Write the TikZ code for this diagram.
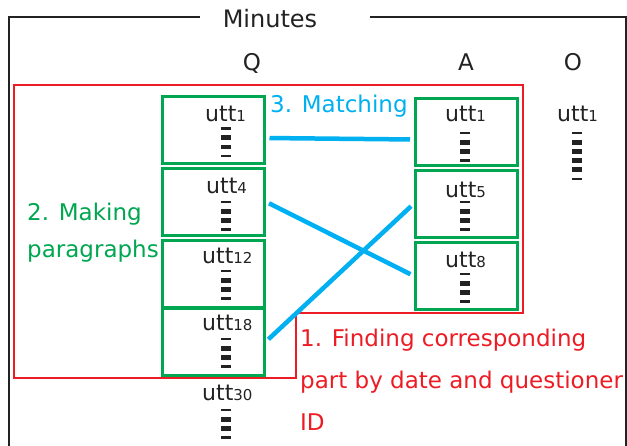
\documentclass[tikz,border=0pt]{standalone}
\usepackage{fontspec}
\setmainfont{DejaVu Sans}
\definecolor{boxgreen}{HTML}{00A650}
\definecolor{matchblue}{HTML}{00B0F0}
\definecolor{findred}{HTML}{ED1C24}
\definecolor{inkgray}{HTML}{222222}
\tikzset{
  uttbox/.style={draw=boxgreen, line width=3pt, minimum width=102pt, minimum height=67pt, inner sep=0pt},
  utt/.style={anchor=base west, inner sep=0pt, text=inkgray, font=\fontsize{22}{22}\selectfont},
  head/.style={anchor=base, inner sep=0pt, text=inkgray, font=\fontsize{23}{23}\selectfont},
  step label/.style={anchor=base west, inner sep=0pt, align=left, font=\fontsize{23}{23}\selectfont},
  matchline/.style={draw=matchblue, line width=4.5pt, shorten <=4pt, shorten >=4pt},
}
\newcommand{\uttno}[1]{utt{\fontsize{15}{15}\selectfont #1}}
% column of bars under an utterance: x, y of first bar, count
\newcommand{\barstack}[3]{%
  \foreach \i in {1,...,#3}{%
    \pgfmathsetmacro{\by}{#2+(\i-1)*9.2}%
    \pgfmathsetmacro{\bh}{(\i==1 || \i==#3) ? 1.2 : 2.4}%
    \fill[inkgray] (#1-5,\by-\bh) rectangle (#1+5,\by+\bh);
  }}

\begin{document}
\begin{tikzpicture}[x=1pt,y=-1pt]
\useasboundingbox (0,0) rectangle (627,445);
% frame
\node[head, font=\fontsize{24}{24}\selectfont] (title) at (270,27) {Minutes};
\draw[inkgray, line width=2pt] (200,17) -- (9,17) -- (9,447);
\draw[inkgray, line width=2pt] (370,17) -- (626,17) -- (626,447);
\node[head] (qhead) at (252,70) {Q};
\node[head] (ahead) at (466,70) {A};
\node[head] (ohead) at (573,70) {O};

% step 1 region
\draw[findred, line width=1.8pt] (14,85) -- (523,85) -- (523,313) -- (296,313) -- (296,378) -- (14,378) -- cycle;

% question boxes
\node[uttbox] (q1) at (213,130) {};
\node[uttbox] (q4) at (213,201.5) {};
\node[uttbox] (q12) at (213,274) {};
\node[uttbox] (q18) at (213,342) {};
% answer boxes
\node[uttbox] (a1) at (466.5,131.5) {};
\node[uttbox] (a5) at (466.5,203.5) {};
\node[uttbox] (a8) at (466.5,276) {};

\node[utt] (uq1) at (205,121) {\uttno{1}};
\node[utt] (uq4) at (206,193) {\uttno{4}};
\node[utt] (uq12) at (202,263) {\uttno{12}};
\node[utt] (uq18) at (202,330) {\uttno{18}};
\node[utt] (uq30) at (202,400) {\uttno{30}};
\node[utt] (ua1) at (445,121) {\uttno{1}};
\node[utt] (ua5) at (445,197) {\uttno{5}};
\node[utt] (ua8) at (445,267) {\uttno{8}};
\node[utt] (uo1) at (557,121) {\uttno{1}};

\barstack{226}{128.5}{4}
\barstack{226}{202}{4}
\barstack{226}{271}{4}
\barstack{226}{339}{4}
\barstack{226}{410}{4}
\barstack{464.5}{133}{4}
\barstack{464.5}{202}{4}
\barstack{464.5}{274}{4}
\barstack{576.5}{133}{6}

% matching
\draw[matchline] ([yshift=-8pt]q1.east) -- ([yshift=-8pt]a1.west);
\draw[matchline] (q4.east) -- (a8.west);
\draw[matchline] (q18.east) -- (a5.west);

\node[step label, text=matchblue] (matching) at (270,112) {3. Matching};
\node[step label, text=boxgreen, font=\fontsize{23}{37}\selectfont] (making) at (27,257) {2. Making\\paragraphs};
\node[step label, text=findred, font=\fontsize{23}{42}\selectfont] (finding) at (300,430) {1. Finding corresponding\\part by date and questioner\\ID};
\end{tikzpicture}
\end{document}
